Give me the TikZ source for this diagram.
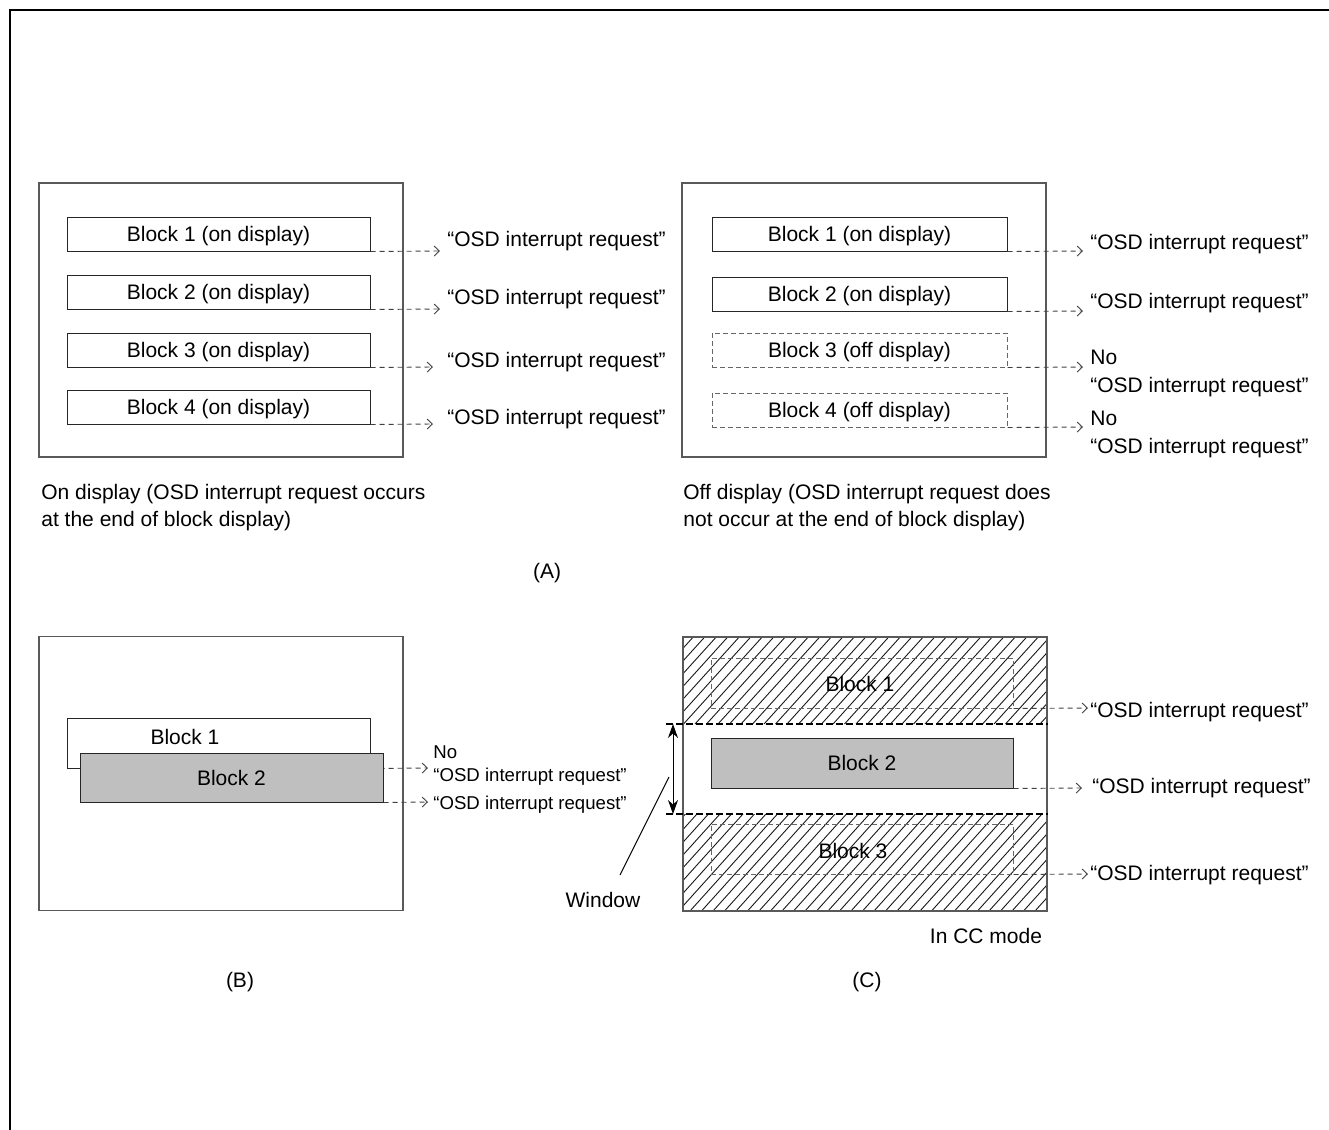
\documentclass[tikz,border=0pt]{standalone}
\usepackage{fontspec}
\setmainfont{Liberation Sans}
\usetikzlibrary{arrows.meta,calc}
\begin{document}
\begin{tikzpicture}[x=0.5pt,y=-0.5pt,
  every node/.style={font=\fontsize{10.5}{12.6}\selectfont},
  panel/.style={draw=black!65,line width=0.6pt,rectangle,inner sep=0pt,minimum width=182pt,minimum height=137pt},
  blk/.style={draw=black!85,line width=0.5pt,rectangle,inner sep=0pt,minimum height=17pt,text depth=0pt},
  dblk/.style={blk,draw=black!60,dash pattern=on 2.5pt off 1.5pt},
  gblk/.style={blk,fill=black!25},
  darr/.style={draw=black!75,line width=0.45pt,dash pattern=on 2.5pt off 2pt,-{Straight Barb[length=2.6pt,width=5pt]}},
  lbl/.style={anchor=base west,inner sep=0pt},
  slbl/.style={lbl,font=\fontsize{9.3}{11}\selectfont},
  ctr/.style={anchor=base,inner sep=0pt},
  intext/.style={inner sep=0pt,text depth=0pt},
  hatch/.style={draw=black!90,line width=0.45pt},
  winline/.style={draw=black,line width=1pt,dash pattern=on 3.5pt off 1.5pt}]
\useasboundingbox (0,0) rectangle (1329,1130);
% outer frame (top and left)
\draw[line width=1.25pt] (10,1130) -- (10,10) -- (1329,10);

% ---------------- (A) left ----------------
\node[panel] (pa) at (221,320) {};
\node[blk,minimum width=151.5pt] (a1) at (218.5,234) {Block 1 (on display)};
\node[blk,minimum width=151.5pt] (a2) at (218.5,292) {Block 2 (on display)};
\node[blk,minimum width=151.5pt] (a3) at (218.5,350) {Block 3 (on display)};
\node[blk,minimum width=151.5pt] (a4) at (218.5,407) {Block 4 (on display)};
\node[lbl] (ta1) at (447,246) {“OSD interrupt request”};
\node[lbl] (ta2) at (447,304) {“OSD interrupt request”};
\node[lbl] (ta3) at (447,367) {“OSD interrupt request”};
\node[lbl] (ta4) at (447,424) {“OSD interrupt request”};
\coordinate (ea1) at (440,251);
\coordinate (ea2) at (440,309);
\coordinate (ea3) at (433,367);
\coordinate (ea4) at (433,424);
\draw[darr] (a1.south east) -- (ea1);
\draw[darr] (a2.south east) -- (ea2);
\draw[darr] (a3.south east) -- (ea3);
\draw[darr] (a4.south east) -- (ea4);
\node[lbl] (capa1) at (41,499) {On display (OSD interrupt request occurs};
\node[lbl] (capa2) at (41,526) {at the end of block display)};

% ---------------- (A) right ----------------
\node[panel] (pr) at (864,320) {};
\node[blk,minimum width=147.5pt] (r1) at (859.5,234) {Block 1 (on display)};
\node[blk,minimum width=147.5pt] (r2) at (859.5,294) {Block 2 (on display)};
\node[dblk,minimum width=147.5pt] (r3) at (859.5,350) {Block 3 (off display)};
\node[dblk,minimum width=147.5pt] (r4) at (859.5,410) {Block 4 (off display)};
\node[lbl] (tr1) at (1090,249) {“OSD interrupt request”};
\node[lbl] (tr2) at (1090,308) {“OSD interrupt request”};
\node[lbl] (tr3a) at (1090,364) {No};
\node[lbl] (tr3b) at (1090,392) {“OSD interrupt request”};
\node[lbl] (tr4a) at (1090,425) {No};
\node[lbl] (tr4b) at (1090,453) {“OSD interrupt request”};
\coordinate (er1) at (1083,251);
\coordinate (er2) at (1083,311);
\coordinate (er3) at (1083,367);
\coordinate (er4) at (1083,427);
\draw[darr] (r1.south east) -- (er1);
\draw[darr] (r2.south east) -- (er2);
\draw[darr] (r3.south east) -- (er3);
\draw[darr] (r4.south east) -- (er4);
\node[lbl] (capr1) at (683,499) {Off display (OSD interrupt request does};
\node[lbl] (capr2) at (683,526) {not occur at the end of block display)};

\node[ctr] (capA) at (547,578) {(A)};

% ---------------- (B) ----------------
\node[panel] (pb) at (221,773.5) {};
\node[blk,minimum width=151.5pt,minimum height=25pt] (bb1) at (218.5,743) {};
\node[intext] (bb1t) at (185,737) {Block 1};
\coordinate (eb1) at (428,768);
\draw[darr] (bb1.south east) -- (eb1);
\node[gblk,minimum width=151.5pt,minimum height=24.5pt] (bb2) at (231.5,777.5) {Block 2};
\coordinate (eb2) at (428,802);
\draw[darr] (bb2.south east) -- (eb2);
\node[slbl] (tb1a) at (433,758) {No};
\node[slbl] (tb1b) at (433,781) {“OSD interrupt request”};
\node[slbl] (tb2) at (433,809) {“OSD interrupt request”};
\node[ctr] (capB) at (240,987) {(B)};

% ---------------- (C) ----------------
\begin{scope}
  \clip (683,637) rectangle (1047,724);
  \foreach \i in {0,...,42} { \draw[hatch] ({580+\i*11.5},724) -- ++(95,-105); }
\end{scope}
\begin{scope}
  \clip (683,814) rectangle (1047,911);
  \foreach \i in {0,...,42} { \draw[hatch] ({575+\i*11.5},911) -- ++(110,-122); }
\end{scope}
\node[draw=black!65,line width=0.6pt,rectangle,inner sep=0pt,minimum width=182pt,minimum height=137pt] (pc) at (865,774) {};
\coordinate (wt) at (673,724);
\coordinate (wb) at (673,814);
\coordinate (wtl) at (666,724);
\coordinate (wbl) at (666,814);
\draw[winline] (wtl) -- (wtl -| pc.east);
\draw[winline] (wbl) -- (wbl -| pc.east);
\draw[line width=0.5pt,{Stealth[length=7pt,width=5pt]}-{Stealth[length=7pt,width=5pt]}] (wt) -- (wb);
\node[ctr] (wlab) at (603,907) {Window};
\coordinate (wl1) at (669,777);
\coordinate (wl2) at (620,875);
\draw[line width=0.5pt] (wl1) -- (wl2);

\node[dblk,minimum width=151pt,minimum height=25pt] (cb1) at (862,683) {};
\node[intext] (cb1t) at (860,684) {Block 1};
\node[gblk,minimum width=151pt,minimum height=25pt] (cb2) at (862,763) {Block 2};
\node[dblk,minimum width=151pt,minimum height=25pt] (cb3) at (862,849) {};
\node[intext] (cb3t) at (853,851) {Block 3};
\coordinate (ec1) at (1088,708);
\coordinate (ec2) at (1082,788);
\coordinate (ec3) at (1088,874);
\draw[darr] (cb1.south east) -- (ec1);
\draw[darr] (cb2.south east) -- (ec2);
\draw[darr] (cb3.south east) -- (ec3);
\node[lbl] (tc1) at (1090,717) {“OSD interrupt request”};
\node[lbl] (tc2) at (1092,793) {“OSD interrupt request”};
\node[lbl] (tc3) at (1090,880) {“OSD interrupt request”};
\node[ctr] (ccm) at (986,943) {In CC mode};
\node[ctr] (capC) at (867,987) {(C)};
\end{tikzpicture}
\end{document}
